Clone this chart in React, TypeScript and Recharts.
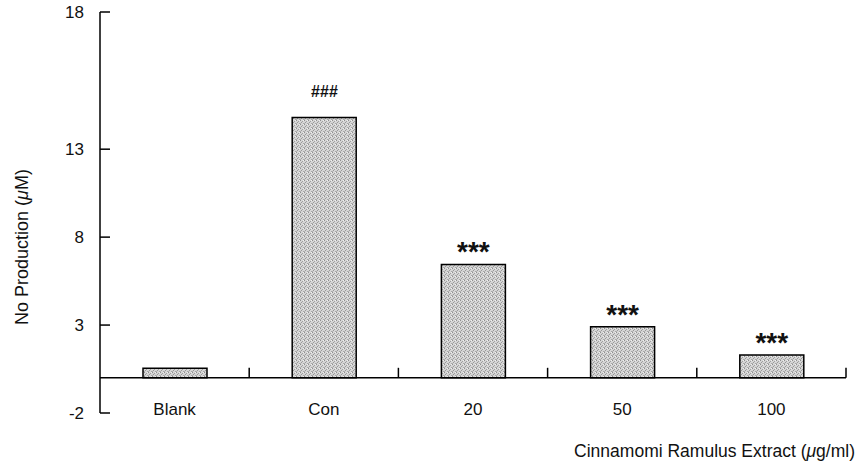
import { BarChart, Bar, XAxis, YAxis, ReferenceLine, LabelList } from "recharts";

const categories = ["Blank", "Con", "20", "50", "100"];
const noProduction = [0.55, 14.8, 6.45, 2.9, 1.3];
const marks = ["", "###", "***", "***", "***"];
// the top of the original axis is stretched: "18" sits where 20.8 would be
const yTickValues = [-2, 3, 8, 13, 20.8];
const yTickLabels = ["-2", "3", "8", "13", "18"];
const boundaries = [1, 2, 3, 4, 5];

const data = categories.map((name, i) => ({
  name,
  pos: i + 0.5,
  value: noProduction[i],
  mark: marks[i],
}));
const catTicks = data.map((d) => d.pos);

const W = 859;
const H = 463;
const PLOT_BOTTOM = 413;
const FONT = "'Liberation Sans', Arial, sans-serif";

function YTick(props: any) {
  const { y, payload } = props;
  const label = yTickLabels[yTickValues.indexOf(payload.value)];
  return (
    <text x={84} y={y} dy="0.36em" textAnchor="end" fontSize={17} fontFamily={FONT} fill="#111">
      {label}
    </text>
  );
}

function XTick(props: any) {
  const { x, payload } = props;
  const label = categories[catTicks.indexOf(payload.value)];
  return (
    <text x={x} y={PLOT_BOTTOM - 4} dy="0.36em" textAnchor="middle" fontSize={17} fontFamily={FONT} fill="#111">
      {label}
    </text>
  );
}

function MarkLabel(props: any) {
  const { x, y, width, value } = props;
  if (!value) return null;
  const cx = x + width / 2;
  if (value === "###") {
    return (
      <text x={cx} y={y - 21} textAnchor="middle" fontSize={16} fontWeight="bold" fontStyle="italic" fontFamily={FONT} fill="#111">
        {value}
      </text>
    );
  }
  return (
    <text x={cx} y={y - 3} textAnchor="middle" fontSize={28} fontWeight="bold" fontFamily={FONT} fill="#111">
      {value}
    </text>
  );
}

function YTitle() {
  return (
    <text x={22} y={247} transform="rotate(-90, 22, 247)" textAnchor="middle" dy="0.36em" fontSize={18} fontFamily={FONT} fill="#111">
      No Production (<tspan fontStyle="italic">μ</tspan>M)
    </text>
  );
}

function XTitle() {
  return (
    <text x={855} y={451} dy="0.36em" textAnchor="end" fontSize={17.5} fontFamily={FONT} fill="#111">
      Cinnamomi Ramulus Extract (<tspan fontStyle="italic">μ</tspan>g/ml)
    </text>
  );
}

export default function App() {
  return (
    <div style={{ position: "absolute", left: 0, top: 0, width: W, height: H, background: "#fff" }}>
      <BarChart width={W} height={H} data={data} margin={{ top: 12, right: 13, left: 40, bottom: 0 }}>
        <defs>
          <pattern id="stipple" width="4" height="4" patternUnits="userSpaceOnUse">
            <rect width="4" height="4" fill="#d6d6d6" />
            <rect x="0" y="0" width="1" height="1" fill="#909090" />
            <rect x="2" y="1" width="1" height="1" fill="#a0a0a0" />
            <rect x="1" y="2" width="1" height="1" fill="#999" />
            <rect x="3" y="3" width="1" height="1" fill="#a8a8a8" />
            <rect x="3" y="0" width="1" height="1" fill="#f0f0f0" />
            <rect x="0" y="3" width="1" height="1" fill="#b0b0b0" />
          </pattern>
        </defs>
        <XAxis
          dataKey="pos"
          type="number"
          domain={[0, 5]}
          ticks={catTicks}
          interval={0}
          height={50}
          axisLine={false}
          tickLine={false}
          tick={<XTick />}
          label={<XTitle />}
        />
        <YAxis
          width={60}
          domain={[-2, 20.8]}
          ticks={yTickValues}
          interval={0}
          axisLine={{ stroke: "#000", strokeWidth: 1.5 }}
          tickLine={false}
          tick={<YTick />}
          label={<YTitle />}
        />
        {yTickValues.map((v) => (
          <ReferenceLine
            key={"y" + v}
            segment={[{ x: 0, y: v }, { x: 0.067, y: v }]}
            stroke="#000"
            strokeWidth={1.5}
          />
        ))}
        <ReferenceLine
          segment={[{ x: 0, y: 0 }, { x: 5, y: 0 }]}
          stroke="#000"
          strokeWidth={1.5}
        />
        {boundaries.map((b) => (
          <ReferenceLine
            key={b}
            segment={[{ x: b, y: 0 }, { x: b, y: 0.57 }]}
            stroke="#000"
            strokeWidth={1.5}
          />
        ))}
        <Bar dataKey="value" barSize={64} fill="url(#stipple)" stroke="#000" strokeWidth={1.5} isAnimationActive={false}>
          <LabelList dataKey="mark" content={<MarkLabel />} />
        </Bar>
      </BarChart>
    </div>
  );
}
